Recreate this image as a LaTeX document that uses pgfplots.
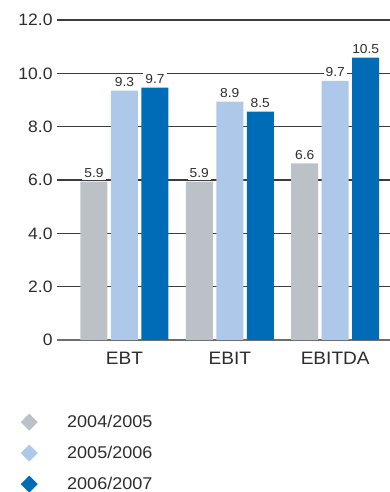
\documentclass[border=0pt]{standalone}
\usepackage{pgfplots}
\pgfplotsset{compat=1.18}
\usepackage{fontspec}
\setmainfont{Liberation Sans}[FakeStretch=1.06]
\definecolor{cgray}{RGB}{187,193,199}
\definecolor{clight}{RGB}{173,200,232}
\definecolor{cdark}{RGB}{0,107,182}
\definecolor{ctext}{RGB}{45,45,45}
\definecolor{cgrid}{RGB}{60,60,60}
\definecolor{caxis}{RGB}{110,110,110}
\begin{document}
\begin{tikzpicture}
\path[use as bounding box] (0,0) rectangle (390pt,492pt);
\begin{axis}[
  at={(57pt,152pt)}, anchor=south west,
  scale only axis, width=333pt, height=320pt,
  xmin=-0.64, xmax=2.52, ymin=0, ymax=12,
  ybar=3.5pt, bar width=27pt,
  xtick={0,1,2}, xticklabels={EBT,EBIT,EBITDA},
  ytick={0,2,4,6,8,10,12},
  yticklabels={0,2.0,4.0,6.0,8.0,10.0,12.0},
  axis x line*=bottom, axis y line*=left,
  y axis line style={draw=none},
  x axis line style={draw=caxis, line width=1.6pt, -},
  major tick length=0pt,
  ymajorgrids, grid style={draw=cgrid, line width=1.1pt},
  yticklabel style={font=\fontsize{16.5}{18}\selectfont, text=ctext, inner sep=0pt, anchor=east, xshift=-4.3pt},
  xticklabel style={font=\fontsize{18}{20}\selectfont, text=ctext, inner sep=0pt, anchor=north, yshift=-11.7pt},
  point meta=explicit symbolic,
  nodes near coords,
  nodes near coords style={font=\fontsize{13}{14}\selectfont, text=ctext, fill=white, inner sep=2pt, anchor=south, yshift=1.5pt},
  legend style={at={(axis description cs:-0.1186,-0.2234)}, anchor=north west, draw=none, fill=none,
    font=\fontsize{17}{18}\selectfont, text=ctext, row sep=14pt,
    nodes={inner sep=0pt},
    /tikz/every odd column/.append style={column sep=29.5pt}},
  legend cell align=left,
  legend image code/.code={\fill[#1] (0pt,0pt) -- (8.5pt,8.5pt) -- (17pt,0pt) -- (8.5pt,-8.5pt) -- cycle;},
]
\addplot[fill=cgray, draw=none] table[x=x, y=y, meta=l] {
x y l
0 5.94 5.9
1 5.94 5.9
2 6.62 6.6
};
\addplot[fill=clight, draw=none] table[x=x, y=y, meta=l] {
x y l
0 9.35 9.3
1 8.94 8.9
2 9.72 9.7
};
\addplot[fill=cdark, draw=none] table[x=x, y=y, meta=l] {
x y l
0 9.46 9.7
1 8.56 8.5
2 10.59 10.5
};
\legend{2004/2005,2005/2006,2006/2007}
\end{axis}
\end{tikzpicture}
\end{document}
